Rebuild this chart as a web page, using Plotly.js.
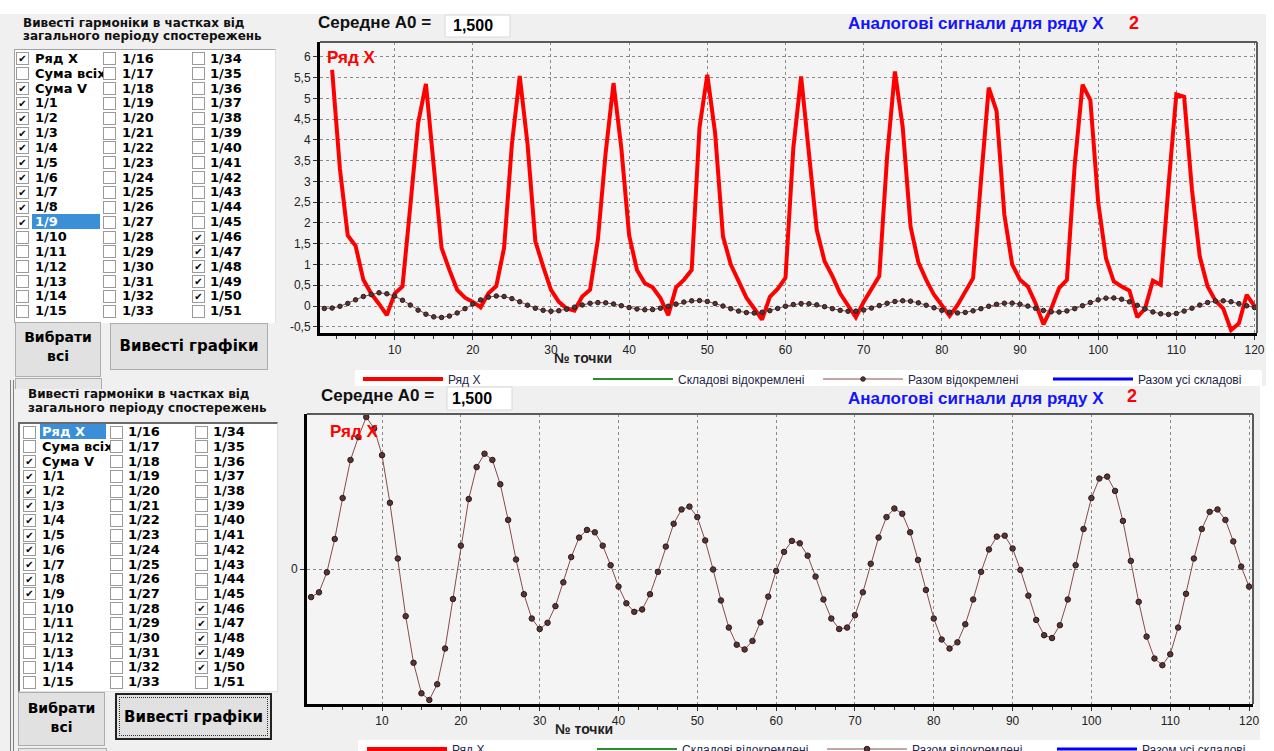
<!DOCTYPE html>
<html><head><meta charset="utf-8">
<script src="https://cdn.plot.ly/plotly-3.0.1.min.js"></script>
<style>
body{margin:0;width:1274px;height:751px;overflow:hidden;background:#f0f0f0;position:relative;font-family:"Liberation Sans",Arial,sans-serif}
#chart{position:absolute;left:0;top:0;width:1274px;height:751px}
#ui{position:absolute;left:0;top:0;width:0;height:0}
.a{position:absolute;white-space:nowrap}
.hdr{font-family:"DejaVu Sans",sans-serif;font-weight:bold;font-size:12px;color:#111;line-height:14px}
.lbl{font-family:"DejaVu Sans",sans-serif;font-weight:bold;font-size:13px;color:#000;line-height:15px;overflow:hidden}
.cb{width:11px;height:11px;border:1px solid #9a9a9a;background:#fff;font-size:10px;line-height:11px;text-align:center;color:#000;font-family:"DejaVu Sans",sans-serif}
.btn{background:#e1e1e1;border:1px solid #adadad;box-sizing:border-box;font-family:"DejaVu Sans",sans-serif;font-weight:bold;color:#000;text-align:center}
</style></head><body>
<div id="chart"></div>
<div id="ui"></div>
<script>
// ---------- DATA ----------
const pointNumbers = Array.from({length:120},(_,i)=>i+1);
const seriesX = [
 null, 5.69, 3.3, 1.7, 1.45, 0.63, 0.3, 0.05, -0.22, 0.3,
 0.47, 2.4, 4.4, 5.35, 3.45, 1.4, 0.87, 0.39, 0.2, 0.1,
 -0.03, 0.31, 0.48, 1.4, 3.9, 5.54, 3.9, 1.56, 0.95, 0.39,
 0.1, -0.06, -0.11, 0.23, 0.39, 1.6, 3.7, 5.37, 3.8, 1.7,
 0.87, 0.55, 0.45, 0.19, -0.22, 0.45, 0.63, 0.87, 4.3, 5.57,
 4.16, 1.68, 1.0, 0.62, 0.2, -0.06, -0.33, 0.22, 0.41, 0.68,
 3.8, 5.53, 3.65, 1.83, 1.08, 0.72, 0.3, 0.0, -0.27, 0.1,
 0.43, 0.72, 3.6, 5.65, 4.3, 1.91, 1.05, 0.63, 0.27, 0.02,
 -0.24, 0.02, 0.35, 0.67, 3.0, 5.26, 4.7, 2.2, 1.0, 0.63,
 0.47, 0.06, -0.44, -0.06, 0.43, 0.63, 3.4, 5.33, 4.96, 2.5,
 1.15, 0.59, 0.47, 0.37, -0.27, -0.06, 0.61, 0.51, 2.9, 5.1,
 5.04, 2.8, 1.19, 0.47, 0.13, -0.06, -0.58, -0.42, 0.27, 0.0];
const sumSeparated = [
 -0.059,-0.049,-0.007,0.063,0.149,0.229,0.277,0.319,0.295,0.239,
 0.139,0.022,-0.099,-0.197,-0.261,-0.275,-0.242,-0.167,-0.063,0.049,
 0.147,0.214,0.242,0.229,0.178,0.103,0.020,-0.053,-0.104,-0.126,
 -0.113,-0.078,-0.028,0.025,0.066,0.082,0.077,0.049,0.008,-0.037,
 -0.072,-0.090,-0.085,-0.053,-0.006,0.047,0.095,0.125,0.131,0.109,
 0.060,-0.001,-0.066,-0.123,-0.159,-0.169,-0.151,-0.112,-0.058,-0.004,
 0.036,0.059,0.054,0.028,-0.016,-0.064,-0.104,-0.126,-0.123,-0.097,
 -0.049,0.011,0.066,0.109,0.127,0.116,0.077,0.019,-0.044,-0.104,
 -0.148,-0.167,-0.154,-0.116,-0.064,-0.006,0.041,0.068,0.070,0.043,
 -0.002,-0.056,-0.107,-0.139,-0.145,-0.118,-0.064,0.008,0.084,0.149,
 0.190,0.194,0.164,0.101,0.017,-0.069,-0.142,-0.188,-0.202,-0.179,
 -0.123,-0.052,0.022,0.084,0.120,0.125,0.103,0.058,0.005,-0.037];
const xTickVals = [10,20,30,40,50,60,70,80,90,100,110,120];
const xTickText = ['10','20','30','40','50','60','70','80','90','100','110','120'];
const yTopTickVals = [-0.5,0,0.5,1,1.5,2,2.5,3,3.5,4,4.5,5,5.5,6];
const yTopTickText = ['-0,5','0','0,5','1','1,5','2','2,5','3','3,5','4','4,5','5','5,5','6'];
const yBottomTickVals = [0];
const yBottomTickText = ['0'];
const legendNames = ['Ряд X','Складові відокремлені','Разом відокремлені','Разом усі складові'];
const col1Labels = ['Ряд X','Сума всіх','Сума V','1/1','1/2','1/3','1/4','1/5','1/6','1/7','1/8','1/9','1/10','1/11','1/12','1/13','1/14','1/15'];
const col2Labels = ['1/16','1/17','1/18','1/19','1/20','1/21','1/22','1/23','1/24','1/25','1/26','1/27','1/28','1/29','1/30','1/31','1/32','1/33'];
const col3Labels = ['1/34','1/35','1/36','1/37','1/38','1/39','1/40','1/41','1/42','1/43','1/44','1/45','1/46','1/47','1/48','1/49','1/50','1/51'];
const checkedTop = ['Ряд X','Сума V','1/1','1/2','1/3','1/4','1/5','1/6','1/7','1/8','1/9','1/46','1/47','1/48','1/49','1/50'];
const checkedBottom = ['Сума V','1/1','1/2','1/3','1/4','1/5','1/6','1/7','1/8','1/9','1/46','1/47','1/48','1/49','1/50'];
const panelTitle = ['Вивесті гармоніки в частках від','загального періоду спостережень'];
const meanLabel = 'Середне A0 =';
const meanValue = '1,500';
const chartTitle = 'Аналогові сигнали для ряду X';
const chartNumber = '2';
const xTitle = '№ точки';

// ---------- CHART ----------
const W=1274,H=751;
const px=v=>v/W, py=v=>1-v/H;
const grid={showgrid:true,gridcolor:'#8a8a8a',griddash:'3px,3px',gridwidth:1,zeroline:false,fixedrange:true,
  ticks:'outside',ticklen:4,tickcolor:'#333',showline:true,linecolor:'#000',linewidth:3,
  tickfont:{size:12,color:'#222'}};
const minorX={tickmode:'linear',tick0:0,dtick:2.5,ticks:'outside',ticklen:3,tickcolor:'#333',showgrid:false};
const redLine={color:'#ff0000',width:4};
const greenLine={color:'#2e8b2e',width:2};
const brownLine={color:'#8a4a4a',width:1};
const blueLine={color:'#0000ff',width:3};
const mk=(s)=>({size:s,color:'#5a3434',line:{color:'#2a1a1a',width:1}});

const traces=[
 {x:pointNumbers,y:seriesX,name:legendNames[0],mode:'lines',line:redLine,xaxis:'x',yaxis:'y',legend:'legend'},
 {x:[null],y:[null],name:legendNames[1],mode:'lines',line:greenLine,xaxis:'x',yaxis:'y',legend:'legend'},
 {x:pointNumbers,y:sumSeparated,name:legendNames[2],mode:'lines+markers',line:brownLine,marker:mk(4.5),xaxis:'x',yaxis:'y',legend:'legend'},
 {x:[null],y:[null],name:legendNames[3],mode:'lines',line:blueLine,xaxis:'x',yaxis:'y',legend:'legend'},
 {x:[null],y:[null],name:legendNames[0],mode:'lines',line:redLine,xaxis:'x2',yaxis:'y2',legend:'legend2'},
 {x:[null],y:[null],name:legendNames[1],mode:'lines',line:greenLine,xaxis:'x2',yaxis:'y2',legend:'legend2'},
 {x:pointNumbers,y:sumSeparated,name:legendNames[2],mode:'lines+markers',line:brownLine,marker:mk(5.5),xaxis:'x2',yaxis:'y2',legend:'legend2'},
 {x:[null],y:[null],name:legendNames[3],mode:'lines',line:blueLine,xaxis:'x2',yaxis:'y2',legend:'legend2'}
];
const rect=(x0,y0,x1,y1,fill,lc,lw)=>({type:'rect',xref:'paper',yref:'paper',x0:px(x0),x1:px(x1),y0:py(y1),y1:py(y0),fillcolor:fill,line:{color:lc||fill,width:lw||0},layer:'below'});
const ln=(x0,y0,x1,y1,c,w)=>({type:'line',xref:'paper',yref:'paper',x0:px(x0),x1:px(x1),y0:py(y0),y1:py(y1),line:{color:c,width:w},layer:'above'});
const ann=(t,x,y,size,color,xa)=>({text:'<b>'+t+'</b>',xref:'paper',yref:'paper',x:px(x),y:py(y),xanchor:xa||'left',yanchor:'middle',showarrow:false,font:{size:size,color:color}});
const legendBase={orientation:'h',xanchor:'left',yanchor:'middle',bgcolor:'rgba(0,0,0,0)',font:{size:12,color:'#26264a'},itemwidth:80,entrywidth:135,entrywidthmode:'pixels',traceorder:'normal',itemclick:false,itemdoubleclick:false};

const layout={
 width:W,height:H,margin:{l:0,r:0,t:0,b:0,autoexpand:false},
 paper_bgcolor:'#f0f0f0',plot_bgcolor:'#f4f4f4',separators:', ',
 font:{family:'"Liberation Sans", Arial, sans-serif',size:12,color:'#222'},
 showlegend:true,
 xaxis:Object.assign({},grid,{domain:[px(320),px(1257)],range:[0.45,120.32],anchor:'y',tickmode:'array',tickvals:xTickVals,ticktext:xTickText,minor:minorX}),
 yaxis:Object.assign({},grid,{domain:[py(333),py(42)],range:[-0.65,6.36],anchor:'x',tickmode:'array',tickvals:yTopTickVals,ticktext:yTopTickText}),
 xaxis2:Object.assign({},grid,{domain:[px(307),px(1253)],range:[0.48,120.5],anchor:'y2',tickmode:'array',tickvals:xTickVals,ticktext:xTickText,minor:minorX}),
 yaxis2:Object.assign({},grid,{domain:[py(704),py(414)],range:[-0.2835,0.3255],anchor:'x2',tickmode:'array',tickvals:yBottomTickVals,ticktext:yBottomTickText}),
 legend:Object.assign({},legendBase,{x:px(358),y:py(379)}),
 legend2:Object.assign({},legendBase,{x:px(362),y:py(749)}),
 shapes:[
  rect(0,0,1274,14,'#ffffff'),
  rect(1266,0,1274,386,'#ffffff'),
  rect(1260,386,1274,751,'#ffffff'),
  rect(355,370,1262,386,'#ffffff'),
  rect(358,740,1262,751,'#ffffff'),
  rect(445,15,510,37,'#ffffff','#d8d8d8',1),
  rect(447,387,512,410,'#ffffff','#d8d8d8',1),
  ln(320,42,1257,42,'#5a5a5a',2), ln(1257,42,1257,333,'#5a5a5a',2),
  ln(307,414,1253,414,'#5a5a5a',2), ln(1253,414,1253,704,'#5a5a5a',2)
 ],
 annotations:[
  ann(meanLabel,316,22,17,'#111'), ann(meanValue,451,26,16,'#000'),
  ann(chartTitle,846,24,17,'#1414ff'), ann(chartNumber,1127,23,18,'#ff0000'),
  ann('Ряд X',325,57,17,'#ff0000'), ann(xTitle,552,358,14,'#222'),
  ann(meanLabel,319,395,17,'#111'), ann(meanValue,450,398,16,'#000'),
  ann(chartTitle,846,398,17,'#1414ff'), ann(chartNumber,1125,396,18,'#ff0000'),
  ann('Ряд X',328,431,17,'#ff0000'), ann(xTitle,553,729,14,'#222')
 ]
};
Plotly.newPlot('chart',traces,layout,{staticPlot:true,displayModeBar:false});

// ---------- LEFT CONTROL PANELS ----------
const ui=document.getElementById('ui');
function el(cls,st,txt){const d=document.createElement('div');d.className='a '+(cls||'');Object.assign(d.style,st);if(txt!==undefined)d.textContent=txt;ui.appendChild(d);return d;}
function panel(c){
  el('hdr',{left:c.hx+'px',top:(c.hy1-7)+'px'},panelTitle[0]);
  el('hdr',{left:c.hx+'px',top:(c.hy2-7)+'px'},panelTitle[1]);
  el('',Object.assign({left:c.box[0]+'px',top:c.box[1]+'px',width:(c.box[2]-c.box[0])+'px',height:(c.box[3]-c.box[1])+'px',background:'#fff',boxSizing:'border-box'},c.boxBorder));
  const cols=[col1Labels,col2Labels,col3Labels];
  cols.forEach((labels,ci)=>{
    labels.forEach((lab,ri)=>{
      const y=c.row0+ri*c.step;
      const chk=c.checked.indexOf(lab)>=0;
      el('cb',{left:c.cbx[ci]+'px',top:Math.round(y-6)+'px'},chk?'✔':'');
      const sel=(ci===0&&lab===c.selected);
      if(sel) el('',{left:c.sel[0]+'px',top:Math.round(y-7.5)+'px',width:(c.sel[1]-c.sel[0])+'px',height:'15px',background:'#3b8fd9'});
      el('lbl',{left:c.tx[ci]+'px',top:Math.round(y-7.5)+'px',width:(ci===0?68:70)+'px',color:sel?'#fff':'#000'},lab);
    });
  });
  const b1=el('btn',{left:c.b1[0]+'px',top:c.b1[1]+'px',width:(c.b1[2]-c.b1[0])+'px',height:(c.b1[3]-c.b1[1])+'px',fontSize:'14px',lineHeight:'19px',paddingTop:c.b1pad+'px',whiteSpace:'normal'});
  b1.innerHTML='Вибрати<br>всі';
  el('btn',Object.assign({left:c.b2[0]+'px',top:c.b2[1]+'px',width:(c.b2[2]-c.b2[0])+'px',height:(c.b2[3]-c.b2[1])+'px',fontSize:'15px',lineHeight:(c.b2[3]-c.b2[1]-2)+'px'},c.b2style||{}),'Вивесті графіки');
}
panel({hx:23,hy1:23,hy2:36,box:[14,49,276,323],boxBorder:{borderTop:'1px solid #a0a0a0',borderLeft:'1px solid #a0a0a0',borderRight:'1px solid #e0e0e0'},
  row0:58.3,step:14.85,cbx:[16,103,192],tx:[35,122,210],checked:checkedTop,selected:'1/9',sel:[32,100],
  b1:[15,322,101,377],b1pad:5,b2:[110,323,268,370]});
panel({hx:28,hy1:394,hy2:408,box:[18,422,278,692],boxBorder:{borderTop:'2px solid #6a6a6a',borderLeft:'2px solid #6a6a6a',borderRight:'1px solid #e0e0e0',borderBottom:'1px solid #e0e0e0'},
  row0:431.7,step:14.7,cbx:[23,110,195],tx:[42,128,213],checked:checkedBottom,selected:'Ряд X',sel:[40,106],
  b1:[18,692,105,746],b1pad:6,b2:[115,693,272,740],b2style:{border:'2px solid #222',outline:'1px dotted #333',outlineOffset:'-5px'}});
// window edge lines / partially visible buttons
el('',{left:'10px',top:'380px',width:'1px',height:'371px',background:'#808080'});
el('',{left:'13px',top:'380px',width:'1px',height:'371px',background:'#808080'});
el('',{left:'15px',top:'378px',width:'85px',height:'10px',border:'1px solid #adadad',borderBottom:'none',background:'#e6e6e6'});
el('',{left:'18px',top:'748px',width:'87px',height:'10px',border:'1px solid #adadad',borderBottom:'none',background:'#e6e6e6'});
</script>
</body></html>
